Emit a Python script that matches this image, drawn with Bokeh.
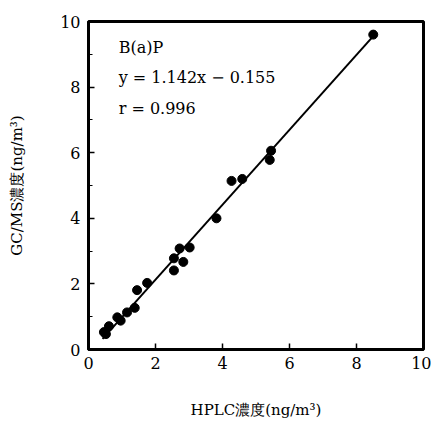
from bokeh.plotting import figure
from bokeh.models import Range1d, FixedTicker, Label
from bokeh.embed import file_html
from bokeh.resources import INLINE

# Data
hplc = [0.46, 0.52, 0.61, 0.86, 0.96, 1.15, 1.38, 1.45, 1.75, 2.55, 2.55,
        2.72, 2.83, 3.02, 3.82, 4.27, 4.59, 5.41, 5.45, 8.50]
gcms = [0.53, 0.47, 0.71, 0.98, 0.88, 1.13, 1.27, 1.81, 2.03, 2.78, 2.41,
        3.08, 2.67, 3.11, 4.00, 5.14, 5.20, 5.78, 6.06, 9.60]

# Regression shown on the chart
slope = 1.142
intercept = -0.155
fit_x = [0.42, 8.50]
fit_y = [slope * v + intercept for v in fit_x]

x_ticks = [0, 2, 4, 6, 8, 10]
y_ticks = [0, 2, 4, 6, 8, 10]
y_minor = [1, 3, 5, 7, 9]

title_text = "B(a)P"
eq_text = "y = 1.142x − 0.155"
r_text = "r = 0.996"
x_label = "HPLC濃度(ng/m³)"
y_label = "GC/MS濃度(ng/m³)"

SERIF = "DejaVu Serif"

p = figure(width=431, height=421, x_range=Range1d(0, 10), y_range=Range1d(0, 10),
           output_backend="svg", toolbar_location=None,
           min_border_left=88, min_border_right=8, min_border_top=21, min_border_bottom=64)

p.background_fill_color = "white"
p.border_fill_color = "white"
p.xgrid.grid_line_color = None
p.ygrid.grid_line_color = None
p.outline_line_color = "black"
p.outline_line_width = 3
p.outline_line_alpha = 1

p.xaxis.ticker = FixedTicker(ticks=x_ticks)
p.yaxis.ticker = FixedTicker(ticks=y_ticks, minor_ticks=y_minor)

for ax in (p.xaxis, p.yaxis):
    ax.axis_line_width = 3
    ax.axis_line_color = "black"
    ax.major_tick_in = 6
    ax.major_tick_out = 0
    ax.major_tick_line_width = 1.5
    ax.major_tick_line_color = "black"
    ax.major_label_text_font = SERIF
    ax.major_label_text_font_size = "16px"
    ax.major_label_text_color = "black"
    ax.axis_label_text_font = SERIF
    ax.axis_label_text_font_size = "15px"
    ax.axis_label_text_font_style = "normal"
    ax.axis_label_text_color = "black"

p.xaxis.minor_tick_line_color = None
p.yaxis.minor_tick_in = 4
p.yaxis.minor_tick_out = 0
p.yaxis.minor_tick_line_width = 1.2
p.yaxis.minor_tick_line_color = "black"

p.xaxis.major_label_standoff = 7
p.yaxis.major_label_standoff = 8
p.xaxis.axis_label = x_label
p.yaxis.axis_label = y_label
p.xaxis.axis_label_standoff = 29
p.yaxis.axis_label_standoff = 31

p.line(fit_x, fit_y, line_color="black", line_width=2)
p.scatter(hplc, gcms, size=9, fill_color="black", line_color="black")

for txt, yy in ((title_text, 9.21), (eq_text, 8.30), (r_text, 7.36)):
    p.add_layout(Label(x=0.9, y=yy, text=txt, text_font=SERIF, text_font_size="16px",
                       text_baseline="middle", text_align="left", text_color="black"))

open("out.html", "w").write(file_html(p, INLINE))
